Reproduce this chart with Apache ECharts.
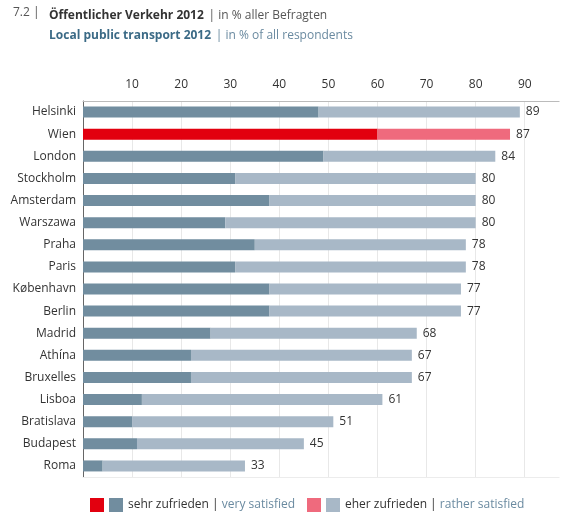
<!DOCTYPE html>
<html>
<head>
<meta charset="utf-8">
<script src="https://cdn.jsdelivr.net/npm/echarts@6/dist/echarts.min.js"></script>
<style>
  html, body { margin: 0; padding: 0; background: #fff; }
  #chart { width: 568px; height: 514px; }
</style>
</head>
<body>
<div id="chart"></div>
<script>
var cities = ['Helsinki', 'Wien', 'London', 'Stockholm', 'Amsterdam', 'Warszawa', 'Praha', 'Paris',
  'København', 'Berlin', 'Madrid', 'Athína', 'Bruxelles', 'Lisboa', 'Bratislava', 'Budapest', 'Roma'];
var verySatisfied = [48, 60, 49, 31, 38, 29, 35, 31, 38, 38, 26, 22, 22, 12, 10, 11, 4];
var totalSatisfied = [89, 87, 84, 80, 80, 80, 78, 78, 77, 77, 68, 67, 67, 61, 51, 45, 33];
var xTicks = [10, 20, 30, 40, 50, 60, 70, 80, 90];
var highlight = 'Wien';

var FONT = 'Open Sans';
var C_DARK = '#718d9f', C_LIGHT = '#a8b8c7', C_RED = '#e2000f', C_PINK = '#ef6a7d';

var dom = document.getElementById('chart');
var myChart = echarts.init(dom, null, { renderer: 'canvas' });

// rather satisfied = total minus very satisfied
var ratherSatisfied = totalSatisfied.map(function (t, i) { return t - verySatisfied[i]; });

var legendRich = {
  a: { fontFamily: FONT, fontSize: 12, color: '#333', fontWeight: 'normal' },
  b: { fontFamily: FONT, fontSize: 12, color: '#6a8aa0', fontWeight: 'normal' }
};

var option = {
  animation: false,
  textStyle: { fontFamily: FONT },
  title: [
    {
      left: 8, top: 2,
      text: '{n|7.2 |}',
      textStyle: { rich: { n: { fontFamily: FONT, fontSize: 12, color: '#555', fontWeight: 'normal' } } }
    },
    {
      left: 44, top: 2,
      text: '{b|Öffentlicher Verkehr 2012} {g|| in % aller Befragten}',
      textStyle: {
        rich: {
          b: { fontFamily: FONT, fontSize: 12, fontWeight: 'bold', color: '#333' },
          g: { fontFamily: FONT, fontSize: 12, fontWeight: 'normal', color: '#555' }
        }
      }
    },
    {
      left: 44, top: 22,
      text: '{b|Local public transport 2012} {g|| in % of all respondents}',
      textStyle: {
        rich: {
          b: { fontFamily: FONT, fontSize: 12, fontWeight: 'bold', color: '#3b6a86' },
          g: { fontFamily: FONT, fontSize: 12, fontWeight: 'normal', color: '#6a8aa0' }
        }
      }
    }
  ],
  grid: { left: 83, top: 101, width: 476.1, height: 376, containLabel: false },
  xAxis: [
    {
      type: 'value', position: 'top', min: 0, max: 97, interval: 10,
      axisLine: { show: true, lineStyle: { color: '#bbb', width: 1 } },
      axisTick: { show: false },
      splitLine: { show: true, showMaxLine: false, lineStyle: { color: '#e8e8e8', width: 1 } },
      axisLabel: {
        margin: 10, fontSize: 12, color: '#333', fontFamily: FONT,
        formatter: function (v) { return xTicks.indexOf(v) >= 0 ? String(v) : ''; }
      }
    },
    {
      type: 'value', position: 'bottom', min: 0, max: 97, interval: 10,
      axisLine: { show: true, lineStyle: { color: '#ececec', width: 1 } },
      axisTick: { show: false }, splitLine: { show: false }, axisLabel: { show: false }
    }
  ],
  yAxis: {
    type: 'category', inverse: true, data: cities,
    axisLine: { show: true, lineStyle: { color: '#666', width: 1 } },
    axisTick: { show: false },
    axisLabel: { margin: 7, fontSize: 12, color: '#333', fontFamily: FONT }
  },
  legend: [
    {
      left: 109, top: 498, padding: 0, itemWidth: 14, itemHeight: 14, itemGap: 5,
      icon: 'rect', data: ['sehr zufrieden'],
      formatter: function () { return '{a|sehr zufrieden |}{b| very satisfied}'; },
      textStyle: { rich: legendRich }
    },
    {
      left: 326, top: 498, padding: 0, itemWidth: 14, itemHeight: 14, itemGap: 5,
      icon: 'rect', data: ['eher zufrieden'],
      formatter: function () { return '{a|eher zufrieden |}{b| rather satisfied}'; },
      textStyle: { rich: legendRich }
    }
  ],
  graphic: [
    { type: 'rect', left: 90, top: 498, shape: { width: 14, height: 14 }, style: { fill: C_RED } },
    { type: 'rect', left: 307, top: 498, shape: { width: 14, height: 14 }, style: { fill: C_PINK } }
  ],
  series: [
    {
      name: 'sehr zufrieden', type: 'bar', stack: 'total', barWidth: 11,
      itemStyle: { color: C_DARK },
      data: verySatisfied.map(function (v, i) {
        return cities[i] === highlight ? { value: v, itemStyle: { color: C_RED } } : v;
      })
    },
    {
      name: 'eher zufrieden', type: 'bar', stack: 'total', barWidth: 11,
      itemStyle: { color: C_LIGHT },
      label: {
        show: true, position: 'right', distance: 6, fontSize: 12, color: '#333', fontFamily: FONT,
        formatter: function (p) { return totalSatisfied[p.dataIndex]; }
      },
      data: ratherSatisfied.map(function (v, i) {
        return cities[i] === highlight ? { value: v, itemStyle: { color: C_PINK } } : v;
      })
    }
  ]
};

if (option && typeof option === 'object') {
  myChart.setOption(option);
}
</script>
</body>
</html>
